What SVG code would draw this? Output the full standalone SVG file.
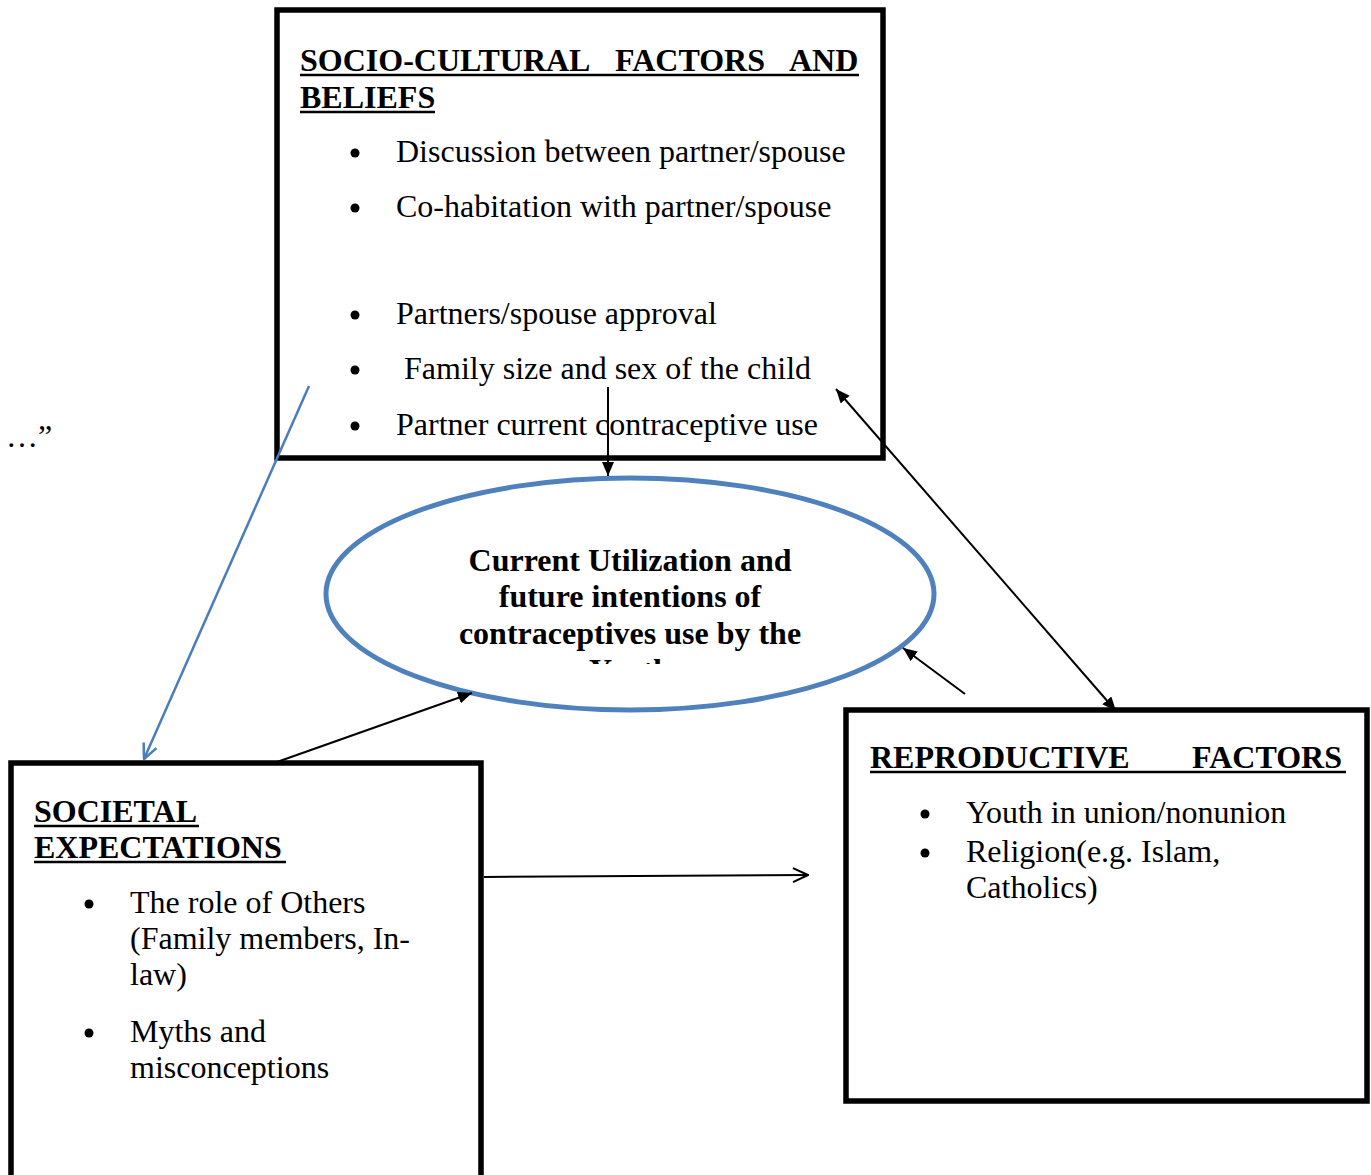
<svg xmlns="http://www.w3.org/2000/svg" width="1371" height="1175" viewBox="0 0 1371 1175">
<defs>
<style>
.box{fill:#fff;stroke:#000;stroke-width:5.5}
.hd{font-family:"Liberation Serif","Times New Roman",serif;font-size:32px;font-weight:bold;fill:#000}
.tx{font-family:"Liberation Serif","Times New Roman",serif;font-size:32px;fill:#000}
.ul{stroke:#000;stroke-width:2.5}
.bul{fill:#000}
.conn{fill:none;stroke:#000;stroke-width:2}
.blue{fill:none;stroke:#4A7EBB;stroke-width:2.5}
.ell{fill:#fff;stroke:#4F81BD;stroke-width:5}
.et{font-family:"Liberation Serif","Times New Roman",serif;font-size:32px;font-weight:bold;fill:#000;text-anchor:middle}
</style>
<marker id="af" viewBox="0 0 14 12" refX="14" refY="6" markerWidth="14" markerHeight="12" markerUnits="userSpaceOnUse" orient="auto-start-reverse">
<path d="M0,0 L14,6 L0,12 Z" fill="#000"/>
</marker>
<marker id="ao" viewBox="0 0 18 18" refX="17" refY="9" markerWidth="18" markerHeight="18" markerUnits="userSpaceOnUse" orient="auto">
<path d="M2,2 L17,9 L2,16" fill="none" stroke="#000" stroke-width="2"/>
</marker>
<marker id="ab" viewBox="0 0 18 18" refX="17" refY="9" markerWidth="18" markerHeight="18" markerUnits="userSpaceOnUse" orient="auto">
<path d="M2,2 L17,9 L2,16" fill="none" stroke="#4A7EBB" stroke-width="2.5"/>
</marker>
<clipPath id="ec"><rect x="330" y="520" width="600" height="144"/></clipPath>
</defs>
<rect width="1371" height="1175" fill="#fff"/>

<g id="socio">
<rect class="box" x="277" y="10" width="606" height="448"/>
<text class="hd" y="71"><tspan x="300">SOCIO-CULTURAL</tspan><tspan x="615">FACTORS</tspan><tspan x="789">AND</tspan></text>
<line class="ul" x1="300" y1="75" x2="859" y2="75"/>
<text class="hd" x="300" y="108">BELIEFS</text>
<line class="ul" x1="300" y1="112" x2="435" y2="112"/>
<circle class="bul" cx="355" cy="153" r="4.5"/>
<text class="tx" x="396" y="162">Discussion between partner/spouse</text>
<circle class="bul" cx="355" cy="208" r="4.5"/>
<text class="tx" x="396" y="217">Co-habitation with partner/spouse</text>
<circle class="bul" cx="355" cy="315" r="4.5"/>
<text class="tx" x="396" y="324">Partners/spouse approval</text>
<circle class="bul" cx="355" cy="370" r="4.5"/>
<text class="tx" x="404" y="379">Family size and sex of the child</text>
<circle class="bul" cx="355" cy="426" r="4.5"/>
<text class="tx" x="396" y="435">Partner current contraceptive use</text>
</g>

<g id="outcome">
<ellipse class="ell" cx="630" cy="594" rx="304" ry="116"/>
<g clip-path="url(#ec)">
<text class="et" x="630" y="571">Current Utilization and</text>
<text class="et" x="630" y="607">future intentions of</text>
<text class="et" x="630" y="644">contraceptives use by the</text>
<text class="et" x="630" y="681">Youth</text>
</g>
</g>

<g id="societal">
<rect class="box" x="11" y="763" width="470" height="420"/>
<text class="hd" x="34" y="822">SOCIETAL</text>
<line class="ul" x1="34" y1="826" x2="199" y2="826"/>
<text class="hd" x="34" y="858">EXPECTATIONS</text>
<line class="ul" x1="34" y1="862" x2="286" y2="862"/>
<circle class="bul" cx="89" cy="904" r="4.5"/>
<text class="tx" x="130" y="913">The role of Others</text>
<text class="tx" x="130" y="949">(Family members, In-</text>
<text class="tx" x="130" y="985">law)</text>
<circle class="bul" cx="89" cy="1033" r="4.5"/>
<text class="tx" x="130" y="1042">Myths and</text>
<text class="tx" x="130" y="1078">misconceptions</text>
</g>

<g id="reproductive">
<rect class="box" x="846" y="710" width="521" height="391"/>
<text class="hd" y="768"><tspan x="870">REPRODUCTIVE</tspan><tspan x="1192">FACTORS</tspan></text>
<line class="ul" x1="870" y1="772" x2="1346" y2="772"/>
<circle class="bul" cx="925" cy="814" r="4.5"/>
<text class="tx" x="966" y="823">Youth in union/nonunion</text>
<circle class="bul" cx="925" cy="853" r="4.5"/>
<text class="tx" x="966" y="862">Religion(e.g. Islam,</text>
<text class="tx" x="966" y="898">Catholics)</text>
</g>

<text id="stray" class="tx" x="6" y="447">…”</text>

<g id="connectors">
<line class="conn" x1="608" y1="387" x2="608" y2="476" marker-end="url(#af)"/>
<line class="blue" x1="309" y1="386" x2="144" y2="759" marker-end="url(#ab)"/>
<line class="conn" x1="277" y1="762" x2="472" y2="693" marker-end="url(#af)"/>
<line class="conn" x1="484" y1="877" x2="808" y2="875" marker-end="url(#ao)"/>
<line class="conn" x1="836" y1="389" x2="1116" y2="711" marker-start="url(#af)" marker-end="url(#af)"/>
<line class="conn" x1="965" y1="694" x2="903" y2="648" marker-end="url(#af)"/>
</g>
</svg>
